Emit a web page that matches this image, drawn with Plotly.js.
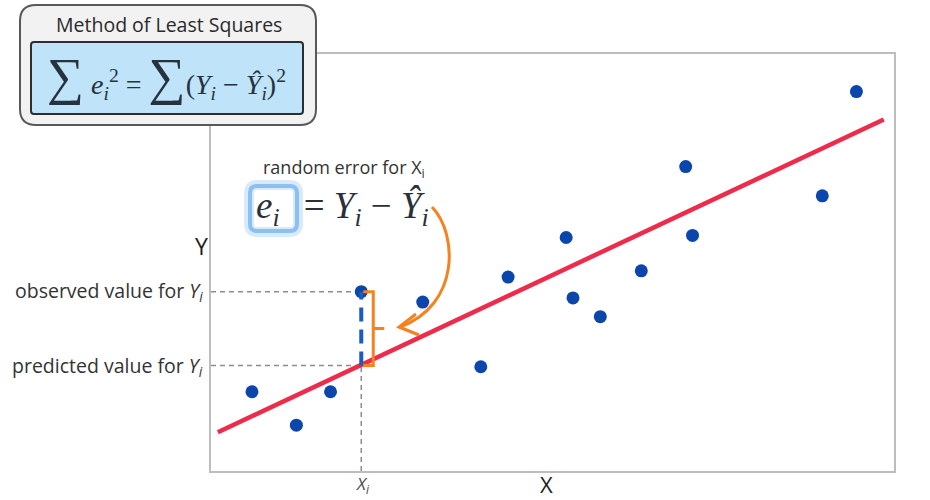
<!DOCTYPE html>
<html>
<head>
<meta charset="utf-8">
<script src="https://cdn.plot.ly/plotly-3.0.1.min.js"></script>
<style>body{margin:0;background:#fff}#chart{width:930px;height:500px}</style>
</head>
<body>
<div id="chart"></div>
<script>
// ---- data ----
const X_VALS = [0.6, 1.25, 1.75, 2.2, 3.1, 3.95, 4.35, 5.2, 5.3, 5.7, 6.3, 6.95, 7.05, 8.95, 9.45];
const Y_VALS = [1.9, 1.1, 1.9, 4.3, 4.05, 2.5, 4.65, 5.6, 4.15, 3.7, 4.8, 7.3, 5.65, 6.6, 9.1];
const FIT_X = [0.1, 9.85];
const FIT_Y = [0.93, 8.43];
const XI = [2.2];
const YI = [4.3];
const YHAT = [2.53];

// ---- geometry helpers (plot area in page pixels) ----
const M = {l: 211, r: 36, t: 54, b: 29};
const W = 930, H = 500;
const PW = W - M.l - M.r, PH = H - M.t - M.b;
const px = x => (x - M.l) / PW;
const py = y => (H - M.b - y) / PH;
const P = (x, y) => px(x).toFixed(5) + ',' + py(y).toFixed(5);
function rr(x0, y0, x1, y1, r) {
  return 'M' + P(x0 + r, y0) + ' L' + P(x1 - r, y0) + ' Q' + P(x1, y0) + ' ' + P(x1, y0 + r) +
    ' L' + P(x1, y1 - r) + ' Q' + P(x1, y1) + ' ' + P(x1 - r, y1) +
    ' L' + P(x0 + r, y1) + ' Q' + P(x0, y1) + ' ' + P(x0, y1 - r) +
    ' L' + P(x0, y0 + r) + ' Q' + P(x0, y0) + ' ' + P(x0 + r, y0) + ' Z';
}

const xi = XI[0], yi = YI[0], yh = YHAT[0];
const dx = PW / 10; // px per x unit
const b1 = 12 / dx, b2 = 23 / dx, b0 = 2 / dx;

const traces = [
  {x: FIT_X, y: FIT_Y, type: 'scatter', mode: 'lines',
   line: {color: '#EF2B4B', width: 4.5}, hoverinfo: 'skip'},
  {x: X_VALS, y: Y_VALS, type: 'scatter', mode: 'markers',
   marker: {color: '#0B46AC', size: 13}, hoverinfo: 'skip'}
];

const grayDash = {color: '#8C8C96', width: 1.5, dash: '5px,4px'};
const orange = '#F5811F';

const shapes = [
  {type: 'line', xref: 'x', yref: 'y', x0: 0, x1: xi, y0: yi, y1: yi, line: grayDash, layer: 'below'},
  {type: 'line', xref: 'x', yref: 'y', x0: 0, x1: xi, y0: yh, y1: yh, line: grayDash, layer: 'below'},
  {type: 'line', xref: 'x', yref: 'y', x0: xi, x1: xi, y0: 0, y1: yh, line: grayDash, layer: 'below'},
  {type: 'line', xref: 'x', yref: 'y', x0: xi, x1: xi, y0: yh, y1: yi,
   line: {color: '#1A5BBE', width: 4, dash: '14px,8px'}, layer: 'above'},
  {type: 'path', xref: 'x', yref: 'y',
   path: 'M' + (xi + b0) + ',' + yi + ' L' + (xi + b1) + ',' + yi + ' L' + (xi + b1) + ',' + yh +
         ' L' + (xi + b0) + ',' + yh +
         ' M' + (xi + b1) + ',' + ((yi + yh) / 2) + ' L' + (xi + b2) + ',' + ((yi + yh) / 2),
   line: {color: orange, width: 3}, layer: 'above'},
  // curved arrow
  {type: 'path', xref: 'paper', yref: 'paper',
   path: 'M' + P(432, 207) + ' C' + P(458, 234) + ' ' + P(460, 305) + ' ' + P(400, 327),
   line: {color: orange, width: 3}, layer: 'above'},
  {type: 'path', xref: 'paper', yref: 'paper',
   path: 'M' + P(416, 314) + ' L' + P(399, 327) + ' L' + P(419, 335),
   line: {color: orange, width: 3}, layer: 'above'},
  // glow box around e_i
  {type: 'path', xref: 'paper', yref: 'paper', path: rr(249, 185, 298, 232, 8),
   line: {color: 'rgba(130,185,245,0.3)', width: 10}, layer: 'above'},
  {type: 'path', xref: 'paper', yref: 'paper', path: rr(250, 186, 297, 231, 7),
   fillcolor: 'rgba(0,0,0,0)', line: {color: '#8CC0F3', width: 4}, layer: 'above'},
  // title box
  {type: 'path', xref: 'paper', yref: 'paper', path: rr(20, 5, 316, 125, 16),
   fillcolor: '#F2F2F2', line: {color: '#595959', width: 2}, layer: 'above'},
  {type: 'path', xref: 'paper', yref: 'paper', path: rr(31, 42, 303, 114, 3),
   fillcolor: '#BFE3F9', line: {color: '#2E2E2E', width: 2}, layer: 'above'}
];

const sans = '"Open Sans", Lato, sans-serif';
const serif = '"Liberation Serif", "DejaVu Serif", serif';
const ann = (x, y, text, size, color, xanchor, family) => ({
  xref: 'paper', yref: 'paper', x: px(x), y: py(y), text: text, showarrow: false,
  xanchor: xanchor || 'center', yanchor: 'middle',
  font: {family: family || sans, size: size, color: color || '#262626'}
});

const annotations = [
  ann(169, 24, 'Method of Least Squares', 19.5, '#2A2A2A'),
  ann(166, 77, '<span style="font-size:52px">∑</span> <i>e</i><sub><i>i</i></sub><sup>2</sup> = <span style="font-size:52px">∑</span>(<i>Y</i><sub><i>i</i></sub> − <i>Ŷ</i><sub><i>i</i></sub>)<sup>2</sup>', 28, '#26323D', 'center', serif),
  ann(344, 168, 'random error for X<sub>i</sub>', 18, '#333333'),
  ann(254, 208, '<i>e</i><sub><i>i</i></sub>\u2009\u2009 = <i>Y</i><sub><i>i</i></sub> − <i>Ŷ</i><sub><i>i</i></sub>', 37, '#2A2F3A', 'left', serif),
  ann(201, 246, 'Y', 23, '#1E1E1E'),
  ann(546, 484, 'X', 22, '#1E1E1E'),
  ann(363, 484, '<i>X<sub>i</sub></i>', 17, '#4A4A4A'),
  ann(205, 291, 'observed value for <i>Y<sub>i</sub></i>', 19.5, '#333333', 'right'),
  ann(205, 366, 'predicted value for <i>Y<sub>i</sub></i>', 19.5, '#333333', 'right')
];

const axis = {range: [0, 10], showgrid: false, zeroline: false, showticklabels: false,
  ticks: '', showline: true, mirror: true, linecolor: '#BDBDBD', linewidth: 2, fixedrange: true};

const layout = {
  width: W, height: H, margin: {l: M.l, r: M.r, t: M.t, b: M.b, pad: 0},
  paper_bgcolor: '#FFFFFF', plot_bgcolor: '#FFFFFF', showlegend: false,
  xaxis: Object.assign({}, axis), yaxis: Object.assign({}, axis),
  shapes: shapes, annotations: annotations
};

Plotly.newPlot('chart', traces, layout, {staticPlot: true, displayModeBar: false});
</script>
</body>
</html>
